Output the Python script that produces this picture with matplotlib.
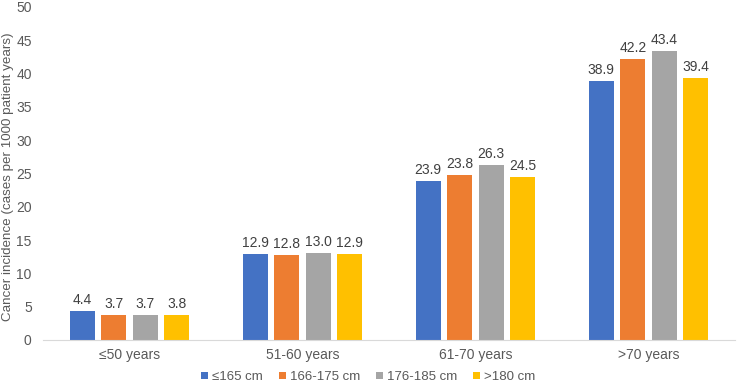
import matplotlib
matplotlib.use("Agg")
import matplotlib.pyplot as plt
import numpy as np

plt.rcParams['font.family'] = ['Liberation Sans', 'DejaVu Sans']

categories = ["≤50 years", "51-60 years", "61-70 years", ">70 years"]
series_names = ["≤165 cm", "166-175 cm", "176-185 cm", ">180 cm"]
colors = ["#4472C4", "#ED7D31", "#A5A5A5", "#FFC000"]
values = [
    [4.4, 12.9, 23.9, 38.9],
    [3.7, 12.8, 24.8, 42.2],
    [3.7, 13.0, 26.3, 43.4],
    [3.8, 12.9, 24.5, 39.4],
]
bar_labels = [
    ["4.4", "12.9", "23.9", "38.9"],
    ["3.7", "12.8", "23.8", "42.2"],
    ["3.7", "13.0", "26.3", "43.4"],
    ["3.8", "12.9", "24.5", "39.4"],
]

fig = plt.figure(figsize=(7.38, 3.85), dpi=100)
ax = fig.add_axes([0.058, 0.117, 0.938, 0.865])

fs = 10
x = np.arange(len(categories))
pitch = 0.182
width = 0.145
for i, (name, col) in enumerate(zip(series_names, colors)):
    xs = x + (i - 1.5) * pitch
    bars = ax.bar(xs, values[i], width=width, color=col, label=name)
    for b, lab in zip(bars, bar_labels[i]):
        ax.text(b.get_x() + b.get_width() / 2, b.get_height() + 0.6, lab,
                ha='center', va='bottom', fontsize=fs, color='#404040')

ax.set_xlim(-0.5, 3.5)
ax.set_ylim(0, 50)
ax.set_yticks(np.arange(0, 51, 5))
ax.set_xticks(x)
ax.set_xticklabels(categories)
ax.tick_params(axis='both', length=0, labelsize=fs, colors='#595959')
ax.tick_params(axis='x', pad=6)
ax.tick_params(axis='y', pad=8)
for s in ['top', 'right', 'left']:
    ax.spines[s].set_visible(False)
ax.spines['bottom'].set_color('#D9D9D9')
ax.set_ylabel("Cancer incidence (cases per 1000 patient years)", fontsize=9.6,
              color='#595959')
ax.yaxis.set_label_coords(-0.041, 0.49)

ax.legend(loc='upper center', bbox_to_anchor=(0.47, -0.07), ncol=4, frameon=False,
          fontsize=9.5, handlelength=0.55, handleheight=0.55, handletextpad=0.3,
          columnspacing=1.2, labelcolor='#595959', borderpad=0.1)

fig.savefig("out.png", dpi=100)
